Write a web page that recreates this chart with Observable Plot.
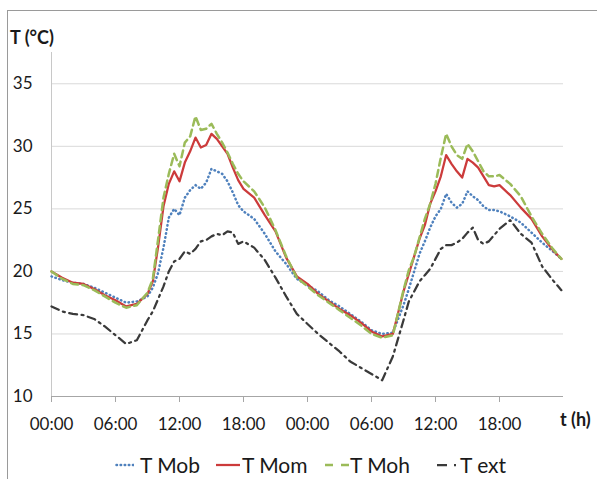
<!DOCTYPE html>
<html><head><meta charset="utf-8">
<script src="https://cdn.jsdelivr.net/npm/d3@7"></script>
<script src="https://cdn.jsdelivr.net/npm/@observablehq/plot@0.6"></script>
<style>
html,body{margin:0;padding:0;background:#fff;overflow:hidden;width:597px;height:479px}
#wrap{position:relative;width:597px;height:479px;font-family:Lato,"Open Sans",sans-serif;color:#1a1a1a;overflow:hidden}
#frame{position:absolute;left:7px;top:10px;width:700px;height:600px;border-left:1px solid #9a9a9a;border-top:1px solid #9a9a9a}
#chart{position:absolute;left:0;top:0}
.lbl{position:absolute;font-weight:bold;font-size:18px;line-height:18px;white-space:nowrap}
.leg{position:absolute;font-size:21px;line-height:21px;white-space:nowrap;top:454px}
.sw{position:absolute;top:462px;line-height:0;font-size:0}
.sw svg{display:block}
</style></head><body>
<div id="wrap"><div id="frame"></div><div id="chart"></div>
<div class="lbl" style="left:10px;top:28px">T (°C)</div>
<div class="lbl" style="left:560px;top:410px">t (h)</div>
<div id="legend"></div>
</div>
<script>
// time in hours from start
const hours = [0,1,2,3,4,5,6,7,8,9,
  9.5,10,10.5,11,11.5,12,12.5,13,13.5,14,14.5,15,15.5,16,16.5,17,17.5,18,
  19,20,21,22,23,24,25,26,27,28,29,30,31,32,33,
  33.5,34,34.5,35,35.5,36,36.5,37,37.5,38,38.5,39,39.5,40,40.5,41,41.5,42,
  43,44,45,46,47,47.8];
const tMob = [19.6,19.3,19.1,19.0,18.7,18.3,17.9,17.5,17.6,18.0,
  18.7,19.9,21.9,24.3,25.0,24.5,25.9,26.5,26.9,26.6,27.1,28.2,28.0,27.8,27.2,26.3,25.3,24.8,
  24.2,23.0,21.6,20.6,19.4,18.9,18.4,17.7,17.2,16.6,16.0,15.3,15.0,15.1,17.3,
  18.6,20.0,21.4,22.4,23.5,24.4,25.0,26.2,25.5,25.1,25.4,26.4,26.0,25.7,25.2,24.9,24.9,24.8,
  24.4,23.9,23.1,22.3,21.6,21.0];
const tMom = [20.0,19.5,19.1,19.0,18.6,18.1,17.7,17.2,17.4,18.2,
  19.2,22.0,25.2,27.0,28.0,27.2,28.7,29.6,30.7,29.9,30.1,31.0,30.6,30.0,29.4,28.3,27.3,26.6,
  25.9,24.5,23.2,21.1,19.6,19.0,18.2,17.6,17.0,16.5,15.9,15.2,14.8,15.0,18.4,
  19.8,21.2,22.6,23.7,25.4,26.4,27.6,29.3,28.6,28.0,27.5,29.0,28.7,28.3,27.6,26.9,26.8,26.9,
  26.1,25.1,24.2,22.8,21.7,21.0];
const tMoh = [20.0,19.4,19.0,18.9,18.5,18.0,17.5,17.1,17.3,18.3,
  19.4,22.6,25.9,27.8,29.4,28.4,30.3,30.8,32.4,31.3,31.4,31.8,31.0,30.3,29.5,28.6,27.8,27.2,
  26.4,25.1,23.3,21.2,19.5,18.8,18.1,17.5,16.9,16.3,15.7,15.0,14.7,14.9,18.5,
  20.1,21.2,22.7,24.2,25.4,27.0,29.1,31.0,30.0,29.3,29.0,30.2,29.6,28.8,28.0,27.6,27.6,27.7,
  27.0,26.0,24.4,23.0,21.8,21.0];
const tExt = [17.2,16.8,16.6,16.5,16.2,15.6,14.9,14.2,14.5,16.1,
  16.8,17.8,18.8,20.0,20.8,21.0,21.6,21.4,21.8,22.4,22.5,22.8,23.0,22.9,23.2,23.1,22.2,22.4,
  21.9,20.9,19.5,18.0,16.6,15.8,15.0,14.3,13.6,12.8,12.3,11.8,11.3,13.2,16.1,
  17.6,18.4,19.2,19.7,20.2,21.0,21.8,22.1,22.1,22.3,22.6,23.1,23.5,22.5,22.2,22.4,22.9,23.4,
  24.1,23.0,22.3,20.4,19.3,18.5];
const seriesNames = ["T Mob","T Mom","T Moh","T ext"];
const xTicks = [0,6,12,18,24,30,36,42];
const yTicks = [10,15,20,25,30,35];
const yGrid = [15,20,25,30,35];

const values = [tMob,tMom,tMoh,tExt];
const styles = [
  {stroke:"#4f81bd", strokeWidth:2.5, strokeDasharray:"0.5 3.6", strokeLinecap:"round"},
  {stroke:"#cc3b3b", strokeWidth:2.25},
  {stroke:"#9bbb59", strokeWidth:2.5, strokeDasharray:"7 4.5"},
  {stroke:"#3a3a3a", strokeWidth:2.25, strokeDasharray:"8 4.5 2 4.5"}
];
const legendDash = ["0.5 3.6", null, "8 8", "10 7 2 20"];
const rows = [];
seriesNames.forEach((s,k)=>hours.forEach((h,i)=>rows.push({series:s,h,t:values[k][i]})));

const fmt = d => String(d % 24).padStart(2,"0") + ":00";

const chart = Plot.plot({
  width:597, height:440,
  marginLeft:51, marginRight:34, marginTop:52, marginBottom:44,
  style:{fontFamily:"Lato, 'Open Sans', sans-serif", fontSize:"17px", color:"#1a1a1a", background:"transparent", overflow:"visible"},
  x:{domain:[0,48]},
  y:{domain:[10,37.5]},
  marks:[
    Plot.ruleY(yGrid,{stroke:"#d9d9d9", strokeWidth:1}),
    Plot.ruleX([0],{stroke:"#c8c8c8", strokeWidth:1}),
    Plot.ruleY([10],{stroke:"#a6a6a6", strokeWidth:1}),
    Plot.axisY(yTicks,{tickSize:0, tickPadding:19, label:null, fill:"#1a1a1a"}),
    Plot.axisX(xTicks,{tickSize:6, tickPadding:15, tickFormat:fmt, label:null, stroke:"#a6a6a6", fill:"#1a1a1a"}),
    ...seriesNames.map((s,k)=>Plot.line(rows.filter(r=>r.series===s),{x:"h", y:"t", ...styles[k]}))
  ]
});
document.getElementById("chart").appendChild(chart);

// legend
const swL = [115,216,325,437], swW = [19,24,24,21], txL = [140,242,350,460];
const leg = document.getElementById("legend");
seriesNames.forEach((s,k)=>{
  const st = styles[k];
  const sw = document.createElement("div");
  sw.className="sw"; sw.style.left = swL[k]+"px";
  const da = legendDash[k];
  sw.innerHTML = `<svg width="${swW[k]}" height="6"><line x1="${k===0?1.5:0}" x2="${swW[k]}" y1="3" y2="3" stroke="${st.stroke}" stroke-width="${st.strokeWidth}" ${da?`stroke-dasharray="${da}"`:""} stroke-linecap="${st.strokeLinecap||"butt"}"/></svg>`;
  leg.appendChild(sw);
  const tx = document.createElement("div");
  tx.className="leg"; tx.style.left = txL[k]+"px"; tx.textContent = s;
  leg.appendChild(tx);
});
</script>
</body></html>
